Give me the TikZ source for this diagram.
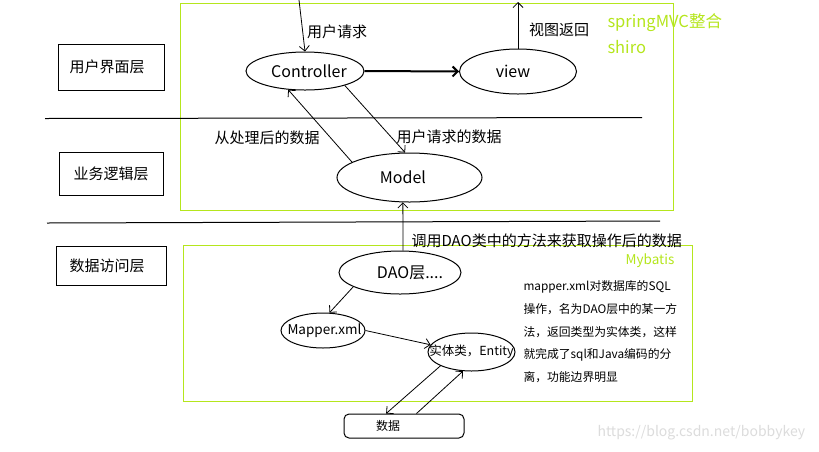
\documentclass[tikz,border=0pt]{standalone}
\usepackage{fontspec}
\setmainfont{Noto Sans CJK SC}
\usetikzlibrary{arrows.meta,shapes.geometric}
\definecolor{lime}{HTML}{B5E61D}
\definecolor{wm}{HTML}{DCDCDC}
\begin{document}
\begin{tikzpicture}[x=1pt,y=-1pt, line width=1pt,
  every node/.style={inner sep=0pt},
  fs/.style={font=\fontsize{#1}{#1}\selectfont},
  ell/.style={draw, ellipse, inner sep=0pt},
  layerbox/.style={draw, rectangle, fs=15},
  arr/.style={-{Straight Barb[length=5pt,width=10pt]}, line width=0.8pt},
  sepline/.style={line width=1pt},
  grn/.style={draw=lime, line width=1pt},
]
\useasboundingbox (0,0) rectangle (819,451);
\fill[white] (0,0) rectangle (819,451);

% green frames
\draw[grn] (180.5,3.5) rectangle (673,210.5);
\draw[grn] (183,245) rectangle (692,401);

% separators
\draw[sepline] (45,118.5) -- (642,117.5);
\draw[sepline] (47,223) -- (660,221);

% layer boxes
\node[layerbox, minimum width=106pt, minimum height=46pt] (ui) at (111,67) {\makebox[0pt]{\hspace*{-8pt}用户界面层}};
\node[layerbox, minimum width=104pt, minimum height=43pt] (biz) at (111,173.5) {\makebox[0pt]{业务逻辑层}};
\node[layerbox, minimum width=110pt, minimum height=39pt] (dal) at (111,265.5) {\makebox[0pt]{\hspace*{-8pt}数据访问层}};

% ellipses
\node[ell, fs=16, minimum width=118pt, minimum height=38pt] (ctrl) at (305,71) {\makebox[0pt]{\hspace*{8pt}Controller}};
\node[ell, fs=16, minimum width=117pt, minimum height=45pt] (view) at (518,71.5) {\makebox[0pt]{\hspace*{-10pt}view}};
\node[ell, fs=16, minimum width=145pt, minimum height=49pt] (model) at (409.5,177.5) {\makebox[0pt]{\hspace*{-13pt}Model}};
\node[ell, fs=16, minimum width=122pt, minimum height=43pt] (dao) at (400,272.5) {\makebox[0pt]{\hspace*{20pt}DAO层....}};
\node[ell, fs=13.5, minimum width=84pt, minimum height=35pt] (mapper) at (323,330.5) {\makebox[0pt]{\hspace*{3pt}Mapper.xml}};
\node[ell, fs=12.5, minimum width=87pt, minimum height=38pt] (entity) at (471.5,352) {\makebox[0pt]{实体类，Entity}};
\node[draw, rectangle, rounded corners=5pt, fs=12, minimum width=120pt, minimum height=24pt] (data) at (404,426) {\makebox[0pt]{\hspace*{-32pt}数据}};

% labels
\node[fs=15] (lreq) at (337,32) {用户请求};
\node[fs=15] (lview) at (559,30) {视图返回};
\node[fs=16.5, text=lime, anchor=west] (lspring) at (607,23) {springMVC整合};
\node[fs=16.5, text=lime, anchor=west] (lshiro) at (607,47.5) {shiro};
\node[fs=15] (lproc) at (267,138) {从处理后的数据};
\node[fs=15, anchor=west] (lreqdata) at (396,137) {用户请求的数据};
\node[fs=15, anchor=west] (lcall) at (411,241) {调用DAO类中的方法来获取操作后的数据};
\node[fs=13.5, text=lime] (lmyb) at (650,261) {Mybatis};
\node[fs=11.8, anchor=west] (m1) at (523,287) {mapper.xml对数据库的SQL};
\node[fs=11.8, anchor=west] (m2) at (523,309.5) {操作，名为DAO层中的某一方};
\node[fs=11.8, anchor=west] (m3) at (523,332) {法，返回类型为实体类，这样};
\node[fs=11.8, anchor=west] (m4) at (523,354.5) {就完成了sql和Java编码的分};
\node[fs=11.8, anchor=west] (m5) at (523,377) {离，功能边界明显};
\node[fs=14, text=wm, anchor=west] (wmk) at (597,433) {https://blog.csdn.net/bobbykey};

% connectors
\coordinate (topin) at (299,0);
\coordinate (topout) at (518,2);
\draw[arr] (topin) -- (ctrl.north);
\draw[arr] (view.north) -- (topout);
\draw[arr, line width=2pt] (ctrl.east) -- (view.west);
\draw[arr] (ctrl.340) -- (model.100);
\draw[arr] (model.165) -- (ctrl.228);
\draw[arr] (dao.82) -- (model.255);
\draw[arr] (dao.197) -- (mapper.70);
\draw[arr] (mapper.east) -- (entity.170);
\draw[arr] (entity.204) -- (data.145);
\draw[arr] (data.45) -- (entity.246);
\end{tikzpicture}
\end{document}
